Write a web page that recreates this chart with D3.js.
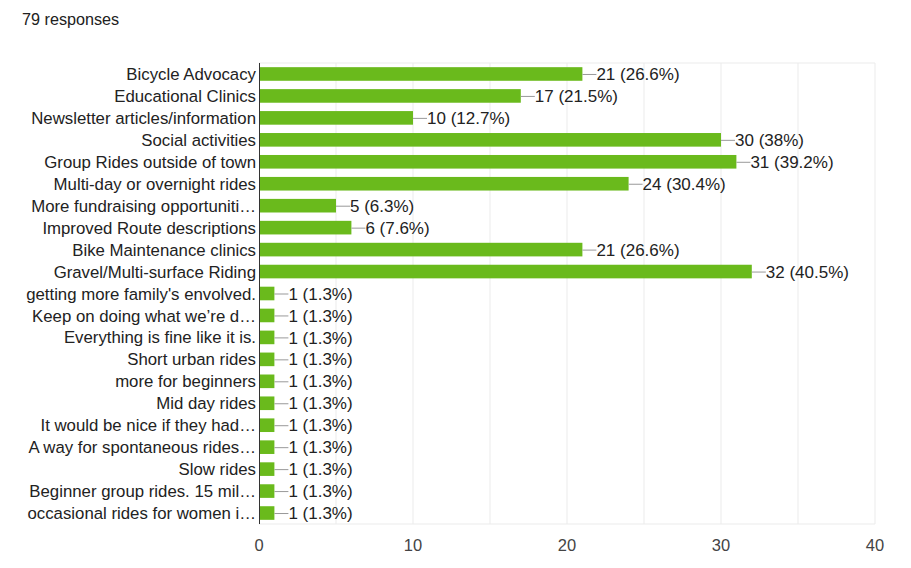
<!DOCTYPE html>
<html>
<head>
<meta charset="utf-8">
<script src="https://cdn.jsdelivr.net/npm/d3@7"></script>
<style>
  body { margin: 0; background: #fff; font-family: "Liberation Sans", Arial, sans-serif; }
</style>
</head>
<body>
<svg id="chart" width="911" height="568"></svg>
<script>
const categories = [
    'Bicycle Advocacy',
    'Educational Clinics',
    'Newsletter articles/information',
    'Social activities',
    'Group Rides outside of town',
    'Multi-day or overnight rides',
    'More fundraising opportuniti\u2026',
    'Improved Route descriptions',
    'Bike Maintenance clinics',
    'Gravel/Multi-surface Riding',
    "getting more family's envolved.",
    'Keep on doing what we\u2019re d\u2026',
    'Everything is fine like it is.',
    'Short urban rides',
    'more for beginners',
    'Mid day rides',
    'It would be nice if they had\u2026',
    'A way for spontaneous rides\u2026',
    'Slow rides',
    'Beginner group rides. 15 mil\u2026',
    'occasional rides for women i\u2026'
];
const counts = [21, 17, 10, 30, 31, 24, 5, 6, 21, 32, 1, 1, 1, 1, 1, 1, 1, 1, 1, 1, 1];
const percents = ['26.6%', '21.5%', '12.7%', '38%', '39.2%', '30.4%', '6.3%', '7.6%', '26.6%', '40.5%',
    '1.3%', '1.3%', '1.3%', '1.3%', '1.3%', '1.3%', '1.3%', '1.3%', '1.3%', '1.3%', '1.3%'];
const xTicks = [0, 10, 20, 30, 40];
const gridLines = [5, 10, 15, 20, 25, 30, 35, 40];
const totalResponses = 79;

const svg = d3.select('#chart');
const margin = { top: 63, left: 259, right: 36, bottom: 44 };
const width = 911, height = 568;

const x = d3.scaleLinear().domain([0, 40]).range([margin.left, width - margin.right]);
const y = d3.scaleBand().domain(categories).range([margin.top, height - margin.bottom]).paddingInner(0.38).paddingOuter(0.19);

svg.append('text')
    .attr('x', 22).attr('y', 25)
    .attr('font-size', 16.2).attr('fill', '#212121')
    .text(`${totalResponses} responses`);

// grid + frame
const g = svg.append('g');
g.selectAll('line.grid')
    .data(gridLines)
    .enter().append('line')
    .attr('x1', d => x(d)).attr('x2', d => x(d))
    .attr('y1', margin.top).attr('y2', height - margin.bottom)
    .attr('stroke', '#ebebeb').attr('stroke-width', 1);
g.append('line')
    .attr('x1', margin.left).attr('x2', width - margin.right)
    .attr('y1', margin.top).attr('y2', margin.top)
    .attr('stroke', '#ebebeb');
g.append('line')
    .attr('x1', margin.left).attr('x2', width - margin.right)
    .attr('y1', height - margin.bottom).attr('y2', height - margin.bottom)
    .attr('stroke', '#ebebeb');

// bars
const rows = categories.map((c, i) => ({ cat: c, n: counts[i], pct: percents[i] }));
g.selectAll('rect.bar')
    .data(rows)
    .enter().append('rect')
    .attr('x', x(0))
    .attr('y', d => y(d.cat))
    .attr('width', d => x(d.n) - x(0))
    .attr('height', y.bandwidth())
    .attr('fill', '#6aba1c');

// leader lines and value labels
g.selectAll('line.lead')
    .data(rows)
    .enter().append('line')
    .attr('x1', d => x(d.n)).attr('x2', d => x(d.n) + 14)
    .attr('y1', d => y(d.cat) + y.bandwidth() / 2 + 0.5)
    .attr('y2', d => y(d.cat) + y.bandwidth() / 2 + 0.5)
    .attr('stroke', '#999').attr('stroke-width', 1);
g.selectAll('text.val')
    .data(rows)
    .enter().append('text')
    .attr('x', d => x(d.n) + 14)
    .attr('y', d => y(d.cat) + y.bandwidth() / 2)
    .attr('dy', '0.36em')
    .attr('font-size', 17).attr('fill', '#222')
    .text(d => `${d.n} (${d.pct})`);

// category labels
g.selectAll('text.cat')
    .data(rows)
    .enter().append('text')
    .attr('x', margin.left - 3)
    .attr('y', d => y(d.cat) + y.bandwidth() / 2)
    .attr('dy', '0.36em')
    .attr('text-anchor', 'end')
    .attr('font-size', 16.8).attr('fill', '#222')
    .text(d => d.cat);

// baseline axis
g.append('line')
    .attr('x1', margin.left + 0.5).attr('x2', margin.left + 0.5)
    .attr('y1', margin.top).attr('y2', height - margin.bottom)
    .attr('stroke', '#333').attr('stroke-width', 1);

// x tick labels
g.selectAll('text.tick')
    .data(xTicks)
    .enter().append('text')
    .attr('x', d => x(d))
    .attr('y', height - margin.bottom + 27)
    .attr('text-anchor', 'middle')
    .attr('font-size', 16.5).attr('fill', '#444')
    .text(d => d);
</script>
</body>
</html>
